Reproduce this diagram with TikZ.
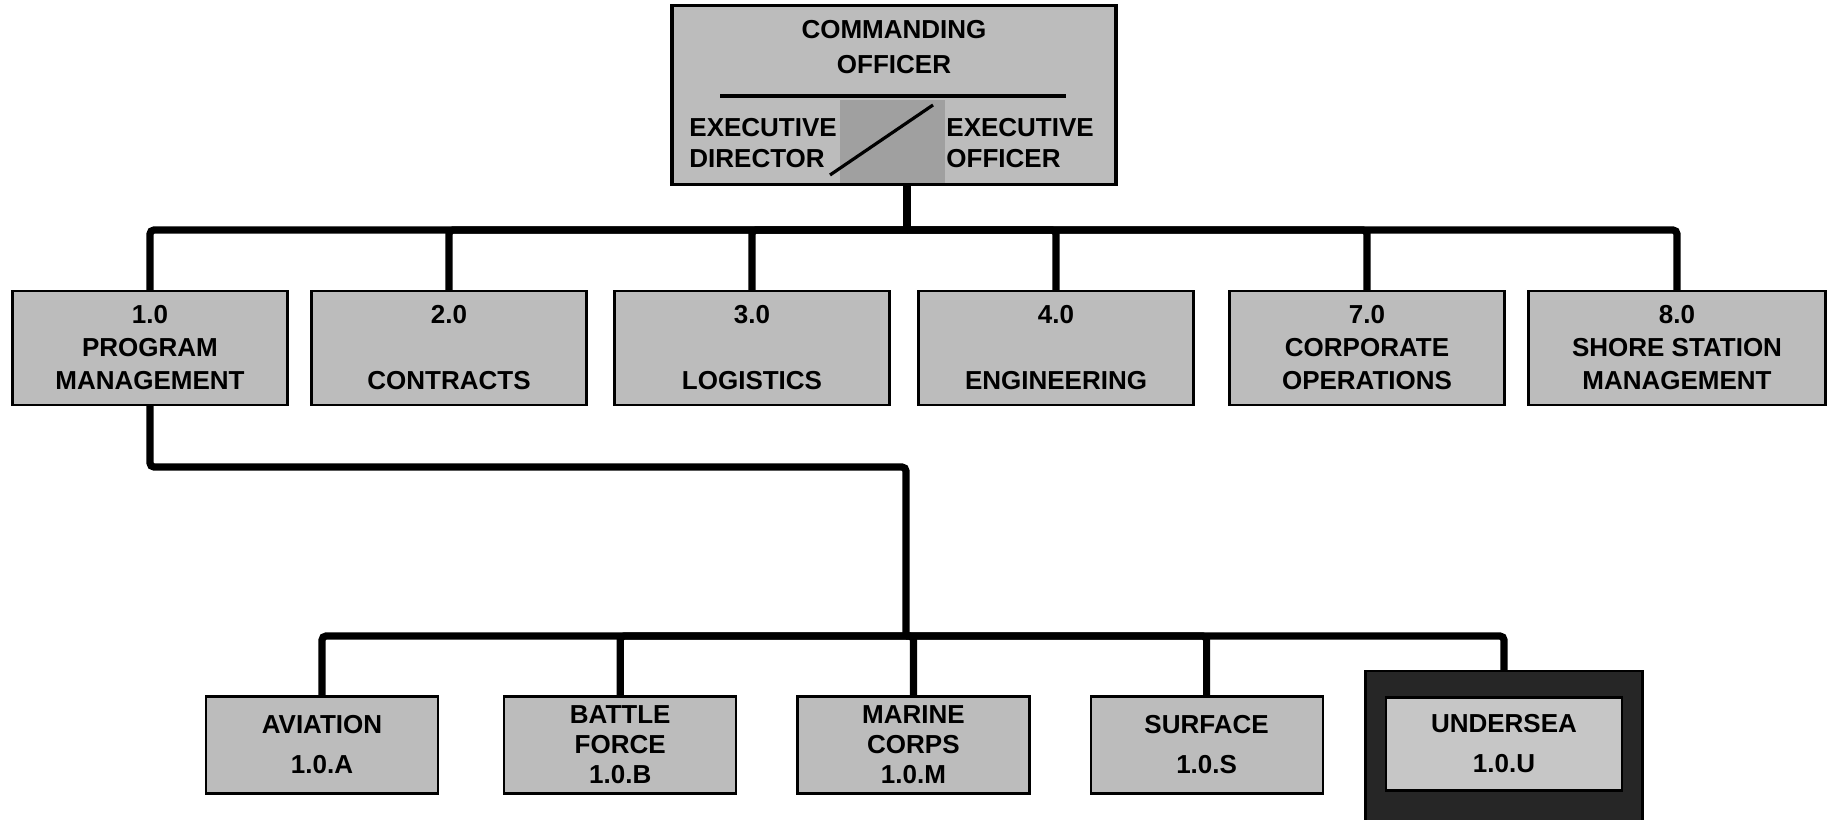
\documentclass[tikz,border=0pt]{standalone}
\usepackage{fontspec}
\setmainfont{Liberation Sans}
\usepackage{xcolor}
\usepackage{tikz}
\usetikzlibrary{positioning}
\definecolor{boxFill}{RGB}{188, 188, 188}
\definecolor{shadeFill}{RGB}{160, 160, 160}
\definecolor{frameDark}{RGB}{38, 38, 38}
\definecolor{innerFill}{RGB}{198, 198, 198}

\begin{document}
\begin{tikzpicture}[
    x=0.5pt, y=-0.5pt,
    node distance=29.5pt,
    chief/.style={rectangle, draw=black, line width=1.1pt, fill=boxFill, minimum width=221.5pt, minimum height=89pt, inner sep=0pt},
    label/.style={align=center, inner sep=0pt, font=\fontsize{13}{17.5}\selectfont\bfseries},
    dept/.style={rectangle, draw=black, line width=1.1pt, fill=boxFill, align=center, minimum width=137.5pt, minimum height=57pt, inner sep=0pt, font=\fontsize{13}{16.5}\selectfont\bfseries},
    branch/.style={rectangle, draw=black, line width=1.1pt, fill=boxFill, align=center, minimum width=116pt, minimum height=48.5pt, inner sep=0pt, font=\fontsize{13}{20}\selectfont\bfseries},
    tight/.style={font=\fontsize{13}{15}\selectfont\bfseries},
    frame/.style={rectangle, draw=black, line width=1.1pt, fill=frameDark, minimum width=138.5pt, minimum height=85pt, inner sep=0pt},
    conn/.style={draw=black, line width=3.6pt, rounded corners=2pt}
]
\useasboundingbox (0,0) rectangle (1830,819);

% Nodes
\node (co) [chief] at (894,95) {};
\fill[shadeFill] (840,100) rectangle (945,183);
\draw[line width=1.1pt] (co.north west) rectangle (co.south east);
\draw[line width=1.6pt] (720,96) -- (1066,96);
\draw[line width=1.6pt] (830,175) -- (933,105);
\node (cotitle) [label] at (894,47) {COMMANDING\\OFFICER};
\node (exdir) [label, align=left, anchor=west, font=\fontsize{13}{15.5}\selectfont\bfseries] at (689,143) {EXECUTIVE\\DIRECTOR};
\node (exoff) [label, align=left, anchor=west, font=\fontsize{13}{15.5}\selectfont\bfseries] at (946,143) {EXECUTIVE\\OFFICER};

\node (pm) [dept] at (150,348) {1.0\\PROGRAM\\MANAGEMENT};
\node (ct) [dept] at (449,348) {2.0\\\strut\\CONTRACTS};
\node (lg) [dept] at (752,348) {3.0\\\strut\\LOGISTICS};
\node (en) [dept] at (1056,348) {4.0\\\strut\\ENGINEERING};
\node (cp) [dept] at (1367,348) {7.0\\CORPORATE\\OPERATIONS};
\node (ss) [dept, minimum width=148.5pt] at (1677,348) {8.0\\SHORE STATION\\MANAGEMENT};

\node (av) [branch] at (322,745) {AVIATION\\1.0.A};
\node (bf) [branch, tight, right=32pt of av] {BATTLE\\FORCE\\1.0.B};
\node (mc) [branch, tight, right=of bf] {MARINE\\CORPS\\1.0.M};
\node (sf) [branch, right=of mc] {SURFACE\\1.0.S};
\node (us) [frame] at (1504,756) {};
\node (usin) [branch, fill=innerFill, minimum width=118pt, minimum height=46.5pt] at (1504,744) {UNDERSEA\\1.0.U};

\coordinate (bus1) at (907,230);
\coordinate (pmbus) at (906,467);
\coordinate (bus2) at (906,636);

% Connectors
\path [conn] (bus1 |- co.south) -- (bus1);
\foreach \n in {pm,ct,lg,en,cp,ss}
    \path [conn] (bus1) -| (\n.north);
\path [conn] (pm.south) |- (pmbus) -- (bus2);
\foreach \n in {av,bf,mc,sf,us}
    \path [conn] (bus2) -| (\n.north);

\end{tikzpicture}
\end{document}
